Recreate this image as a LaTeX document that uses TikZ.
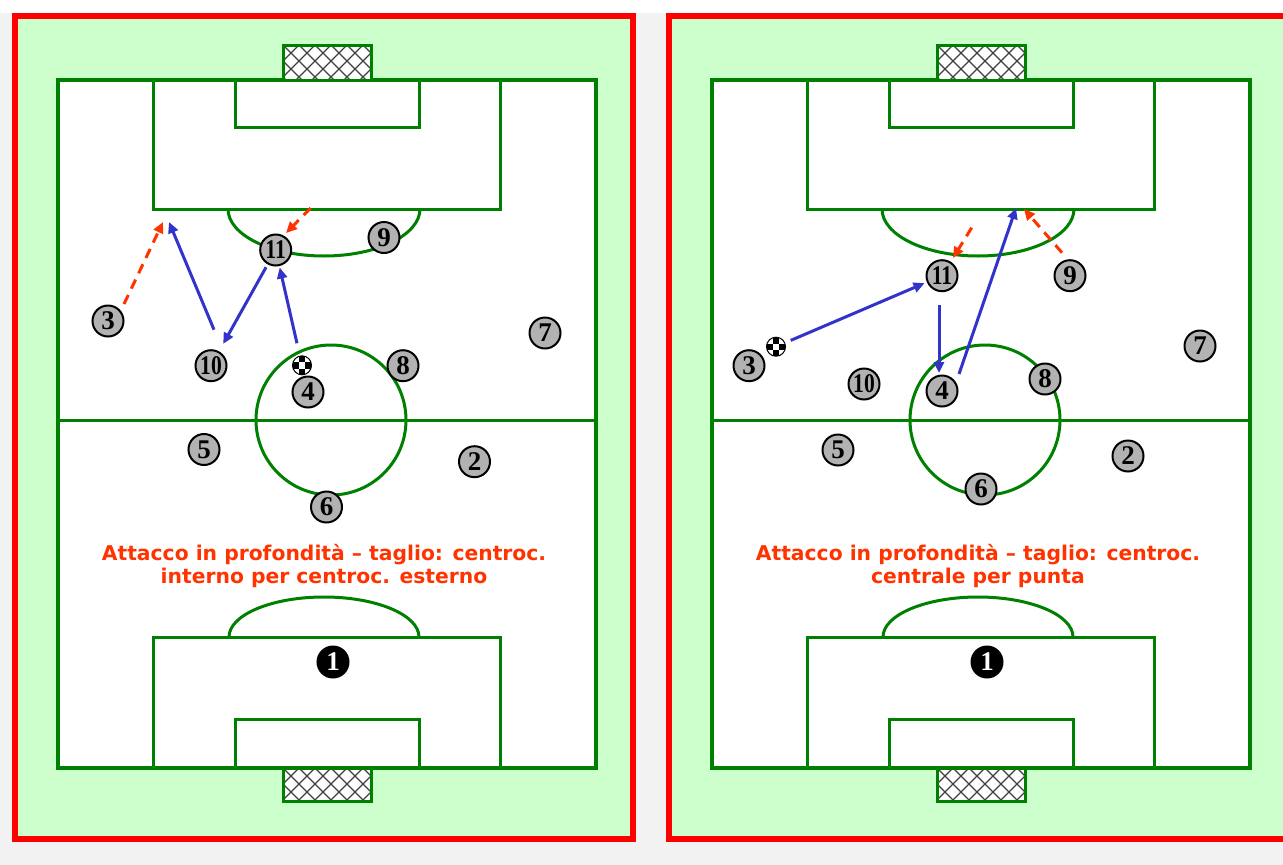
\documentclass[tikz,border=0pt]{standalone}
\usepackage{fontspec}
\newfontfamily\capfont{DejaVu Sans}
\newfontfamily\numfont{Liberation Serif}
\usetikzlibrary{arrows.meta,calc}
\definecolor{bggray}{HTML}{F2F2F2}
\definecolor{fieldgreen}{HTML}{CCFFCC}
\definecolor{linegreen}{HTML}{008000}
\definecolor{framered}{HTML}{FF0000}
\definecolor{arrblue}{HTML}{3333CC}
\definecolor{arrred}{HTML}{FF3300}
\definecolor{playergray}{HTML}{B2B2B2}
\newcommand\twodig[1]{\scalebox{0.8}[1]{#1}}
\tikzset{
  pline/.style={draw=linegreen, line width=3pt},
  outerline/.style={draw=linegreen, line width=4pt},
  netline/.style={draw=black!75, line width=1.1pt},
  player/.style={circle, draw=black, line width=2pt, fill=playergray, minimum size=31pt, inner sep=0pt,
    font=\numfont\bfseries\fontsize{27}{27}\selectfont},
  keeper/.style={player, fill=black, text=white},
  ball/.style={circle, draw=black, line width=1pt, fill=white, minimum size=19pt, inner sep=0pt,
    path picture={
      \foreach \i/\j in {0/-1,-1/0,1/0,0/1}
        \fill[black] ($(path picture bounding box.center)+(\i*6.4-3.2,\j*6.4-3.2)$) rectangle ++(6.4,6.4);
    }},
  bluearr/.style={draw=arrblue, line width=3pt, -{Triangle[length=11pt,width=10pt]}},
  redarr/.style={draw=arrred, line width=3pt, dash pattern=on 10pt off 7pt, -{Triangle[length=11pt,width=10pt]}},
  caption/.style={text=arrred, align=center, font=\capfont\bfseries\fontsize{20.3}{23}\selectfont}
}
\newcommand\goalnet[4]{%
  \begin{scope}
    \clip (#1,#2) rectangle (#3,#4);
    \fill[white] (#1,#2) rectangle (#3,#4);
    \foreach \c in {-4,...,10} {
      \draw[netline] ({#1+16*\c},#2) -- ++(60,60);
      \draw[netline] ({#1+16*\c},#2) -- ++(-60,60);
    }
  \end{scope}
  \draw[linegreen, line width=3pt] (#1,#2) rectangle (#3,#4);
}
\newcommand\drawpitch{%
  \fill[white] (58,80) rectangle (596,768);
  % top half
  \draw[pline] (153,80) rectangle (500,209);
  \draw[pline] (235,80) rectangle (419,127);
  \draw[pline] (228,209) arc[start angle=180, end angle=0, x radius=96, y radius=47];
  % halfway
  \draw[pline] (58,420) -- (596,420);
  \draw[pline] (331,420) circle[radius=75];
  % bottom half
  \draw[pline] (153,637) rectangle (500,768);
  \draw[pline] (235,719) rectangle (419,768);
  \draw[pline] (229,637) arc[start angle=180, end angle=360, x radius=95, y radius=40];
  \draw[outerline] (58,80) rectangle (596,768);
  \goalnet{283}{45}{371}{80}
  \goalnet{283}{768}{371}{801}
}
\begin{document}
\begin{tikzpicture}[x=1pt,y=-1pt]
\useasboundingbox (0,0) rectangle (1283,865);
\clip (0,0) rectangle (1283,865);
\fill[bggray] (0,0) rectangle (1283,865);
\fill[white] (0,0) rectangle (1283,13);
% frames
\fill[fieldgreen] (15,16) rectangle (633,839);
\draw[framered, line width=6pt] (15,16) rectangle (633,839);
\fill[fieldgreen] (669,16) rectangle (1290,839);
\draw[framered, line width=6pt] (669,16) rectangle (1290,839);
% pitches
\begin{scope}\drawpitch\end{scope}
\begin{scope}[xshift=654pt]\drawpitch\end{scope}

% ---------- left panel ----------
\node[player] (L11) at (275.7,250) {\twodig{11}};
\node[player] (L9) at (384,237.5) {9};
\node[player] (L3) at (108,321) {3};
\node[player] (L10) at (211,365.7) {\twodig{10}};
\node[player] (L4) at (308,392) {4};
\node[player] (L8) at (403,365.7) {8};
\node[player] (L7) at (545,333) {7};
\node[player] (L5) at (204,449.5) {5};
\node[player] (L2) at (474.5,461.7) {2};
\node[player] (L6) at (326.5,507) {6};
\node[keeper] (L1) at (333,662) {1};
\node[ball] (Lball) at (302,365.3) {};
\coordinate (Lt1) at (163,222);
\coordinate (Lt2) at (169,222);
\coordinate (Lt3) at (310.7,208);
\draw[redarr] ($(L3)+(16,-17)$) -- (Lt1);
\draw[bluearr] ($(L10)+(3,-36)$) -- (Lt2);
\draw[bluearr] ($(L11)!19.7pt!(L10)$) -- ($(L10)!25pt!(L11)$);
\draw[bluearr] ($(Lball)!22.6pt!(L11)$) -- ($(L11)!18pt!(Lball)$);
\draw[redarr] (Lt3) -- ($(L11)+(10.3,-17)$);
\node[caption] (Lcap) at (324,566) {Attacco in profondità – taglio: centroc.\\interno per centroc. esterno};

% ---------- right panel ----------
\node[player] (R11) at (942,275.7) {\twodig{11}};
\node[player] (R9) at (1070,275.7) {9};
\node[player] (R3) at (749,365.7) {3};
\node[player] (R10) at (864,384) {\twodig{10}};
\node[player] (R4) at (942,391) {4};
\node[player] (R8) at (1045,379) {8};
\node[player] (R7) at (1200,346) {7};
\node[player] (R5) at (838,450) {5};
\node[player] (R2) at (1128,456) {2};
\node[player] (R6) at (981,489) {6};
\node[keeper] (R1) at (987,662) {1};
\node[ball] (Rball) at (776,346.7) {};
\coordinate (Rt1) at (1016,208);
\coordinate (Rt2) at (971.7,227.7);
\coordinate (Rt3) at (1024,209);
\draw[bluearr] ($(Rball)!16pt!(R11)$) -- ($(R11)!19pt!(Rball)$);
\draw[bluearr] ($(R11)+(-3,29.3)$) -- ($(R4)+(-3,-18)$);
\draw[bluearr] ($(R4)+(17,-17)$) -- (Rt1);
\draw[redarr] (Rt2) -- ($(R11)+(11,-17.7)$);
\draw[redarr] ($(R9)+(-8,-23)$) -- (Rt3);
\node[caption] (Rcap) at (978,566) {Attacco in profondità – taglio: centroc.\\centrale per punta};
\end{tikzpicture}
\end{document}
